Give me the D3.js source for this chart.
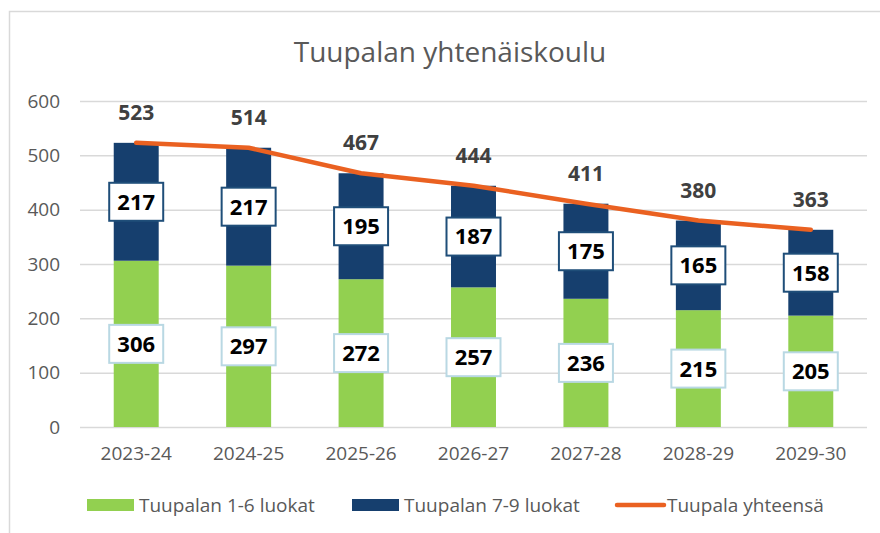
<!DOCTYPE html>
<html>
<head>
<meta charset="utf-8">
<script src="https://cdn.jsdelivr.net/npm/d3@7"></script>
<style>
  body { margin: 0; background: #fff; }
  svg { display: block; font-family: "Open Sans", sans-serif; }
</style>
</head>
<body>
<div id="chart"></div>
<script>
const WIDTH = 880;
const HEIGHT = 533;

// DATA
const years = ["2023-24", "2024-25", "2025-26", "2026-27", "2027-28", "2028-29", "2029-30"];
const grades16 = [306, 297, 272, 257, 236, 215, 205];
const grades79 = [217, 217, 195, 187, 175, 165, 158];
const totals = [523, 514, 467, 444, 411, 380, 363];
const yTicks = [0, 100, 200, 300, 400, 500, 600];
const seriesNames = ["Tuupalan 1-6 luokat", "Tuupalan 7-9 luokat", "Tuupala yhteensä"];

const GREEN = "#92d050";
const NAVY = "#163f6e";
const ORANGE = "#ea6121";

const svg = d3.select("#chart")
  .append("svg")
  .attr("width", WIDTH)
  .attr("height", HEIGHT);

// frame
svg.append("rect")
  .attr("x", 9.5).attr("y", 11.5)
  .attr("width", 900).attr("height", 600)
  .attr("fill", "none")
  .attr("stroke", "#d9d9d9")
  .attr("stroke-width", 1.5);

// TITLE
svg.append("text")
  .attr("x", 450)
  .attr("y", 62)
  .attr("text-anchor", "middle")
  .attr("font-size", "28px")
  .style("fill", "#595959")
  .text("Tuupalan yhtenäiskoulu");

// SCALES
const x = d3.scaleBand()
  .domain(years)
  .range([80, 867])
  .paddingInner(0.6)
  .paddingOuter(0.3);

const y = d3.scaleLinear()
  .domain([0, 600])
  .range([427, 101]);

// AXIS
const yAxisGroup = svg.append("g")
  .attr("transform", "translate(80, 0)")
  .call(d3.axisLeft(y).tickValues(yTicks).tickSize(-787).tickPadding(20))
  .call((g) => g.select(".domain").remove());
yAxisGroup.selectAll(".tick line")
  .attr("stroke", "#d9d9d9")
  .attr("stroke-width", 1.5);
yAxisGroup.selectAll(".tick text")
  .attr("font-size", "19px")
  .attr("font-family", "Open Sans, sans-serif")
  .style("fill", "#595959");

const xAxisGroup = svg.append("g")
  .attr("transform", "translate(0, 427)")
  .call(d3.axisBottom(x).tickSize(0).tickPadding(20))
  .call((g) => g.select(".domain").remove());
xAxisGroup.selectAll(".tick text")
  .attr("font-size", "19px")
  .attr("font-family", "Open Sans, sans-serif")
  .style("fill", "#595959");

// STACKED BARS
const bars = svg.append("g");
bars.selectAll(".low")
  .data(years)
  .join("rect")
  .attr("x", (d) => x(d))
  .attr("width", x.bandwidth())
  .attr("y", (d, i) => y(grades16[i]))
  .attr("height", (d, i) => y(0) - y(grades16[i]))
  .attr("fill", GREEN);

bars.selectAll(".high")
  .data(years)
  .join("rect")
  .attr("x", (d) => x(d))
  .attr("width", x.bandwidth())
  .attr("y", (d, i) => y(grades16[i] + grades79[i]))
  .attr("height", (d, i) => y(grades16[i]) - y(grades16[i] + grades79[i]))
  .attr("fill", NAVY);

// TOTAL LINE
const line = d3.line()
  .x((d, i) => x(years[i]) + x.bandwidth() / 2)
  .y((d) => y(d));

svg.append("path")
  .datum(totals)
  .attr("d", line)
  .attr("fill", "none")
  .attr("stroke", ORANGE)
  .attr("stroke-width", 4.5)
  .attr("stroke-linecap", "round")
  .attr("stroke-linejoin", "round");

// BOXED LABELS
function boxLabels(values, base, border) {
  const g = svg.append("g")
    .selectAll("g")
    .data(values)
    .join("g")
    .attr("transform", (d, i) => {
      const cx = x(years[i]) + x.bandwidth() / 2;
      const cy = y(base[i] + d / 2);
      return `translate(${cx}, ${cy})`;
    });
  g.append("rect")
    .attr("x", -27).attr("y", -19)
    .attr("width", 54).attr("height", 38)
    .attr("fill", "#fff")
    .attr("stroke", border)
    .attr("stroke-width", 2);
  g.append("text")
    .attr("text-anchor", "middle")
    .attr("dy", "0.36em")
    .attr("font-size", "22px")
    .attr("font-weight", "bold")
    .style("fill", "#000")
    .text((d) => d);
}
boxLabels(grades16, grades16.map(() => 0), "#b9d8e3");
boxLabels(grades79, grades16, "#1f4e79");

// TOTAL LABELS
svg.append("g")
  .selectAll("text")
  .data(totals)
  .join("text")
  .attr("x", (d, i) => x(years[i]) + x.bandwidth() / 2)
  .attr("y", (d) => y(d) - 23)
  .attr("text-anchor", "middle")
  .attr("font-size", "21px")
  .attr("font-weight", "bold")
  .style("fill", "#404040")
  .text((d) => d);

// LEGEND
const legend = svg.append("g");
const legendX = [87, 352, 615];
legend.append("rect")
  .attr("x", legendX[0]).attr("y", 499)
  .attr("width", 47).attr("height", 12)
  .attr("fill", GREEN);
legend.append("rect")
  .attr("x", legendX[1]).attr("y", 499)
  .attr("width", 47).attr("height", 12)
  .attr("fill", NAVY);
legend.append("line")
  .attr("x1", legendX[2] + 2).attr("x2", legendX[2] + 49)
  .attr("y1", 505).attr("y2", 505)
  .attr("stroke", ORANGE)
  .attr("stroke-width", 4.5)
  .attr("stroke-linecap", "round");
legend.selectAll("text")
  .data(seriesNames)
  .join("text")
  .attr("x", (d, i) => legendX[i] + 52)
  .attr("y", 512)
  .attr("font-size", "19px")
  .style("fill", "#595959")
  .text((d) => d);
</script>
</body>
</html>
